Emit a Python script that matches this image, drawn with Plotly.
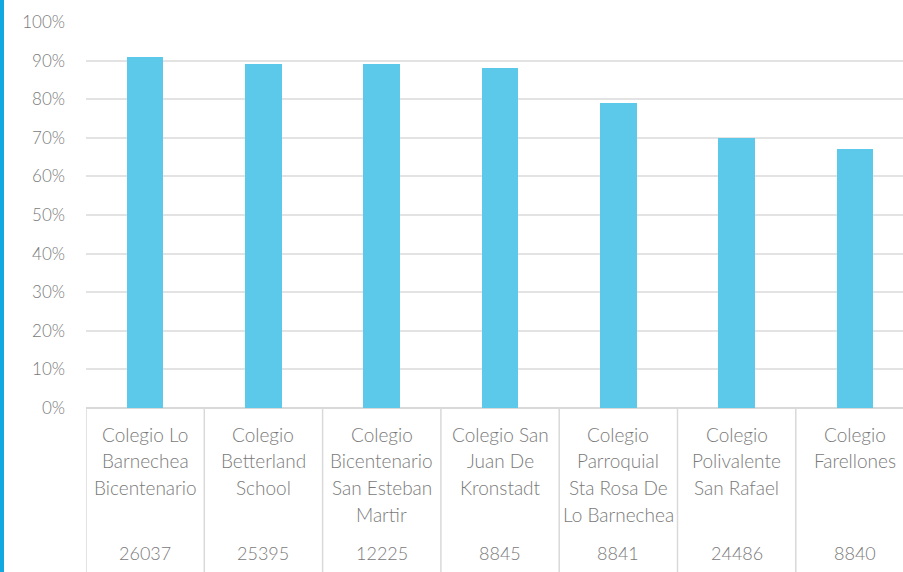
import plotly.graph_objects as go

categories = [
    ["Colegio Lo", "Barnechea", "Bicentenario"],
    ["Colegio", "Betterland", "School"],
    ["Colegio", "Bicentenario", "San Esteban", "Martir"],
    ["Colegio San", "Juan De", "Kronstadt"],
    ["Colegio", "Parroquial", "Sta Rosa De", "Lo Barnechea"],
    ["Colegio", "Polivalente", "San Rafael"],
    ["Colegio", "Farellones"],
]
codes = ["26037", "25395", "12225", "8845", "8841", "24486", "8840"]
values = [0.91, 0.89, 0.89, 0.88, 0.79, 0.70, 0.67]

W, H = 903, 572
ML, MR, MT, MB = 86, 0, 22, 164
plot_w = W - ML - MR
plot_h = H - MT - MB
cat_px = 118.3

xs = list(range(len(values)))
text_color = "#7a7a7a"
font_family = "Lato, 'Noto Sans', sans-serif"

fig = go.Figure()
fig.add_trace(go.Bar(
    x=xs, y=values, width=0.31,
    marker=dict(color="#5cc8ea", line=dict(width=0)),
    hoverinfo="skip",
))

annotations = []
for i, lines in enumerate(categories):
    for k, line in enumerate(lines):
        annotations.append(dict(
            x=i, xref="x", y=0, yref="paper", text=line, showarrow=False,
            xanchor="center", yanchor="middle", yshift=-(26 + 26.8 * k),
            font=dict(family=font_family, size=19, color=text_color, weight=300),
        ))
    annotations.append(dict(
        x=i, xref="x", y=0, yref="paper", text=codes[i], showarrow=False,
        xanchor="center", yanchor="middle", yshift=-145,
        font=dict(family=font_family, size=18, color=text_color, weight=300),
    ))

shapes = []
for i in range(len(values)):
    shapes.append(dict(
        type="line", xref="x", yref="paper", x0=i - 0.5, x1=i - 0.5,
        y0=0, y1=-MB / plot_h - 0.01, line=dict(color="#d9d9d9", width=1.5),
    ))
# left accent border
shapes.append(dict(
    type="rect", xref="paper", yref="paper", xsizemode="pixel", xanchor=0,
    x0=-ML, x1=-ML + 4, y0=-MB / plot_h - 0.02, y1=1 + MT / plot_h + 0.02,
    fillcolor="#11a9df", line=dict(width=0), layer="above",
))

fig.update_layout(
    width=W, height=H,
    margin=dict(l=ML, r=MR, t=MT, b=MB, pad=0),
    paper_bgcolor="white", plot_bgcolor="white",
    showlegend=False,
    bargap=0,
    annotations=annotations,
    shapes=shapes,
    xaxis=dict(
        range=[-0.5, -0.5 + plot_w / cat_px],
        showticklabels=False, showgrid=False, zeroline=False,
        showline=False, ticks="", fixedrange=True,
    ),
    yaxis=dict(
        range=[0, 1], dtick=0.1, tick0=0, tickformat=".0%",
        showgrid=True, gridcolor="#e3e3e3", gridwidth=1.5,
        zeroline=True, zerolinecolor="#d9d9d9", zerolinewidth=1.5,
        showline=False, ticks="", ticklabelstandoff=20,
        tickfont=dict(family=font_family, size=17, color=text_color, weight=300),
        fixedrange=True,
    ),
)

fig.write_html(
    "out.html",
    config={"displayModeBar": False},
    post_script="document.body.style.margin='0';document.body.style.overflow='hidden';",
)
